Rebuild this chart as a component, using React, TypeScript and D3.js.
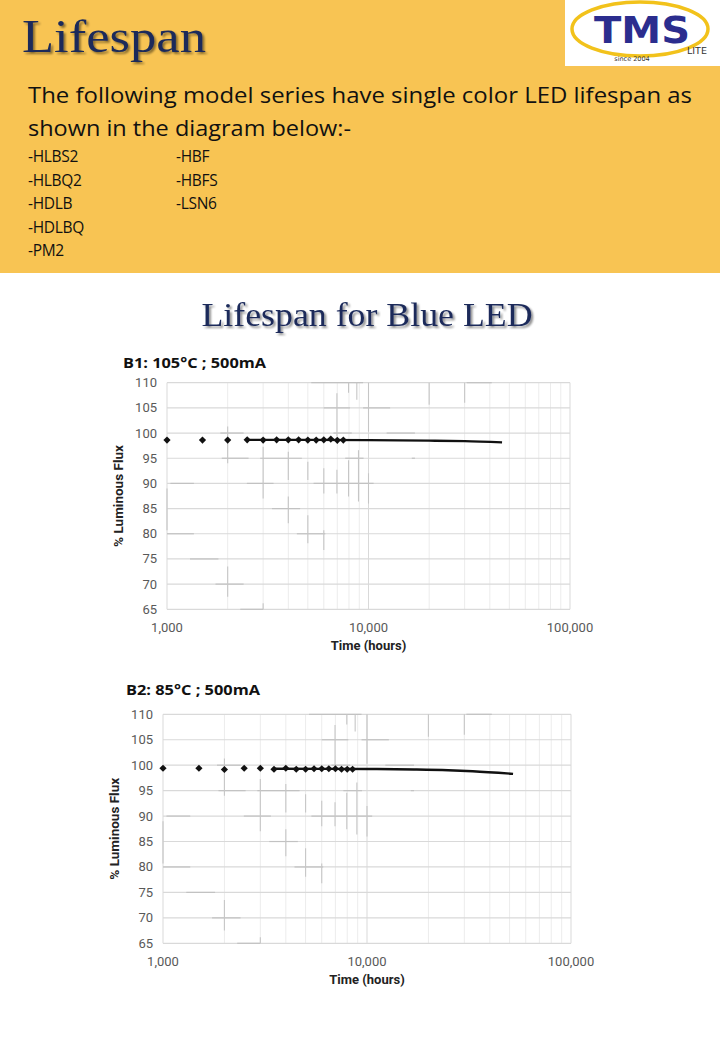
import React from "react";
import * as d3 from "d3";

// ---------- data ----------
const yTicks = [65, 70, 75, 80, 85, 90, 95, 100, 105, 110];
const xTicks = [1000, 10000, 100000];

const times1 = [1000, 1500, 2000, 2500, 3000, 3500, 4000, 4500, 5000, 5500, 6000, 6500, 7000, 7500];
const values1 = [98.6, 98.6, 98.6, 98.65, 98.6, 98.65, 98.65, 98.65, 98.6, 98.6, 98.65, 98.8, 98.55, 98.6];
const fitTimes1 = [2500, 5000, 10000, 20000, 30000, 46000];
const fitValues1 = [98.65, 98.65, 98.6, 98.5, 98.4, 98.15];

const times2 = [1000, 1500, 2000, 2500, 3000, 3500, 4000, 4500, 5000, 5500, 6000, 6500, 7000, 7500, 8000, 8500];
const values2 = [99.4, 99.4, 99.15, 99.4, 99.4, 99.2, 99.4, 99.2, 99.2, 99.3, 99.3, 99.3, 99.3, 99.2, 99.2, 99.2];
const fitTimes2 = [3500, 10000, 17000, 25000, 33000, 52000];
const fitValues2 = [99.3, 99.25, 99.15, 99.0, 98.8, 98.3];

// faint background cross marks: horizontal [value, t1, t2], vertical [time, v1, v2]
const hMarks: [number, number, number][] = [
  [110, 5200, 9400], [110, 30700, 40900], [105, 6000, 8100], [105, 9400, 12800],
  [100, 1840, 2400], [100, 6700, 8260], [100, 12300, 17000], [95, 1870, 2540],
  [95, 2900, 4670], [95, 7660, 9450], [95, 16400, 17000], [90, 1040, 1360],
  [90, 2490, 3380], [90, 5340, 10600], [85, 3320, 4580], [80, 1000, 1360],
  [80, 4410, 6100], [75, 1300, 1800], [70, 1740, 2400], [65, 2310, 3000],
];
const vMarks: [number, number, number][] = [
  [20000, 105.6, 110], [30000, 106, 110], [7960, 108, 110], [8750, 106.6, 110],
  [6970, 99.3, 107.9], [6970, 88, 92.7], [10000, 100.3, 110], [2000, 94, 101.3],
  [3000, 87, 97.3], [4000, 90.7, 96.3], [5000, 90.7, 94.3], [6000, 88, 93],
  [7960, 87.4, 94.6], [8920, 86.4, 96.6], [10000, 86, 92], [4000, 82.1, 87.4],
  [5000, 78.1, 83.7], [6000, 76.8, 80.7], [1000, 80.7, 89], [2000, 67.5, 73.5],
  [3000, 65, 66.2],
];

const minorTimes = [2000, 3000, 4000, 5000, 6000, 7000, 8000, 9000, 20000, 30000, 40000, 50000, 60000, 70000, 80000, 90000];

const listCol1 = ["-HLBS2", "-HLBQ2", "-HDLB", "-HDLBQ", "-PM2"];
const listCol2 = ["-HBF", "-HBFS", "-LSN6"];

const NAVY = "#1b2a5a";
const ORANGE = "#f8c453";

type ChartProps = {
  title: string;
  titleX: number;
  titleY: number;
  titleW: number;
  left: number;
  right: number;
  top: number;
  bottom: number;
  times: number[];
  values: number[];
  fitT: number[];
  fitV: number[];
};

function Chart(p: ChartProps) {
  const x = d3.scaleLog().domain([1000, 100000]).range([p.left, p.right]);
  const y = d3.scaleLinear().domain([65, 110]).range([p.bottom, p.top]);
  const fmt = d3.format(",");
  const fit = p.fitT.map((t, i) => [t, p.fitV[i]] as [number, number]);
  const line = d3
    .line<[number, number]>()
    .x((d) => x(d[0]))
    .y((d) => y(d[1]))
    .curve(d3.curveMonotoneX);
  const diamond = d3.symbol(d3.symbolSquare, 26)();
  const cx = (p.left + p.right) / 2;
  return (
    <g>
      <text x={p.titleX} y={p.titleY} fontFamily="'Open Sans', sans-serif" fontWeight={700} fontSize={15} fill="#111" textLength={p.titleW} lengthAdjust="spacingAndGlyphs">
        {p.title}
      </text>
      {minorTimes.map((t) => (
        <line key={"m" + t} x1={x(t)} x2={x(t)} y1={p.top} y2={p.bottom} stroke="#ececec" strokeWidth={1} />
      ))}
      {xTicks.map((t) => (
        <line key={"M" + t} x1={x(t)} x2={x(t)} y1={p.top} y2={p.bottom} stroke="#d9d9d9" strokeWidth={1} />
      ))}
      {yTicks.map((v) => (
        <line key={"h" + v} x1={p.left} x2={p.right} y1={y(v)} y2={y(v)} stroke="#d9d9d9" strokeWidth={1.2} />
      ))}
      {hMarks.map((m, i) => (
        <line key={"hm" + i} x1={x(m[1])} x2={x(m[2])} y1={y(m[0])} y2={y(m[0])} stroke="#c2c2c2" strokeWidth={1.2} />
      ))}
      {vMarks.map((m, i) => (
        <line key={"vm" + i} x1={x(m[0])} x2={x(m[0])} y1={y(m[1])} y2={y(m[2])} stroke="#c6c6c6" strokeWidth={1.1} />
      ))}
      {yTicks.map((v) => (
        <text key={"yl" + v} x={p.left - 10} y={y(v) + 4.5} textAnchor="end" fontFamily="Roboto, sans-serif" fontSize={13} fill="#595959">
          {v}
        </text>
      ))}
      {xTicks.map((t) => (
        <text key={"xl" + t} x={x(t)} y={p.bottom + 23} textAnchor="middle" fontFamily="Roboto, sans-serif" fontSize={13} fill="#595959">
          {fmt(t)}
        </text>
      ))}
      <text x={cx} y={p.bottom + 41} textAnchor="middle" fontFamily="Roboto, sans-serif" fontWeight={700} fontSize={13} fill="#222">
        Time (hours)
      </text>
      <text
        transform={`translate(${p.left - 44},${(p.top + p.bottom) / 2}) rotate(-90)`}
        textAnchor="middle"
        fontFamily="Roboto, sans-serif"
        fontWeight={700}
        fontSize={13.5}
        fill="#222"
      >
        % Luminous Flux
      </text>
      <path d={line(fit) || ""} fill="none" stroke="#111" strokeWidth={2.4} />
      {p.times.map((t, i) => (
        <path key={"pt" + i} d={diamond || ""} transform={`translate(${x(t)},${y(p.values[i])}) rotate(45)`} fill="#111" />
      ))}
    </g>
  );
}

export default function App() {
  return (
    <svg
      width={720}
      height={1040}
      style={{ position: "absolute", left: 0, top: 0, display: "block", background: "#fff" }}
    >
      <defs>
        <filter id="sh" x="-10%" y="-10%" width="130%" height="140%">
          <feGaussianBlur in="SourceAlpha" stdDeviation="1.2" />
          <feOffset dx="2" dy="2" result="o" />
          <feComponentTransfer>
            <feFuncA type="linear" slope="0.45" />
          </feComponentTransfer>
          <feMerge>
            <feMergeNode />
            <feMergeNode in="SourceGraphic" />
          </feMerge>
        </filter>
      </defs>
      <rect x={0} y={0} width={720} height={273} fill={ORANGE} />
      <text x={22} y={52} fontFamily="'Liberation Serif', serif" fontSize={47} fill={NAVY} textLength={184} lengthAdjust="spacingAndGlyphs" filter="url(#sh)">
        Lifespan
      </text>
      {/* logo */}
      <rect x={565} y={0} width={155} height={66} fill="#fff" />
      <ellipse cx={640} cy={29} rx={68} ry={27} fill="none" stroke="#f2c21b" strokeWidth={3.5} />
      <text x={642} y={43} textAnchor="middle" fontFamily="'DejaVu Sans', sans-serif" fontWeight={700} fontSize={38} fill="#2b2d8e" textLength={96} lengthAdjust="spacingAndGlyphs">
        TMS
      </text>
      <text x={687} y={54} fontFamily="'DejaVu Sans', sans-serif" fontSize={9.5} fill="#333">
        LITE
      </text>
      <text x={632} y={61} textAnchor="middle" fontFamily="'DejaVu Sans', sans-serif" fontSize={6.5} fill="#333">
        since 2004
      </text>

      <text x={28} y={103} fontFamily="'Open Sans', sans-serif" fontSize={22} fill="#111" textLength={664} lengthAdjust="spacingAndGlyphs">
        The following model series have single color LED lifespan as
      </text>
      <text x={28} y={136} fontFamily="'Open Sans', sans-serif" fontSize={22} fill="#111" textLength={323} lengthAdjust="spacingAndGlyphs">
        shown in the diagram below:-
      </text>
      {listCol1.map((s, i) => (
        <text key={s} x={28} y={162 + i * 23.5} fontFamily="'Open Sans', sans-serif" fontSize={15.5} fill="#111" style={{ letterSpacing: "-0.3px" }}>
          {s}
        </text>
      ))}
      {listCol2.map((s, i) => (
        <text key={s} x={176} y={162 + i * 23.5} fontFamily="'Open Sans', sans-serif" fontSize={15.5} fill="#111" style={{ letterSpacing: "-0.3px" }}>
          {s}
        </text>
      ))}

      <text x={367} y={326} textAnchor="middle" fontFamily="'Liberation Serif', serif" fontSize={33} fill={NAVY} textLength={331} lengthAdjust="spacingAndGlyphs" filter="url(#sh)">
        Lifespan for Blue LED
      </text>

      <Chart
        title="B1: 105°C ; 500mA"
        titleX={123}
        titleY={368}
        titleW={143}
        left={167}
        right={570}
        top={382.7}
        bottom={609.3}
        times={times1}
        values={values1}
        fitT={fitTimes1}
        fitV={fitValues1}
      />
      <Chart
        title="B2: 85°C ; 500mA"
        titleX={126}
        titleY={695}
        titleW={134}
        left={163}
        right={571}
        top={714.3}
        bottom={943.3}
        times={times2}
        values={values2}
        fitT={fitTimes2}
        fitV={fitValues2}
      />
    </svg>
  );
}
